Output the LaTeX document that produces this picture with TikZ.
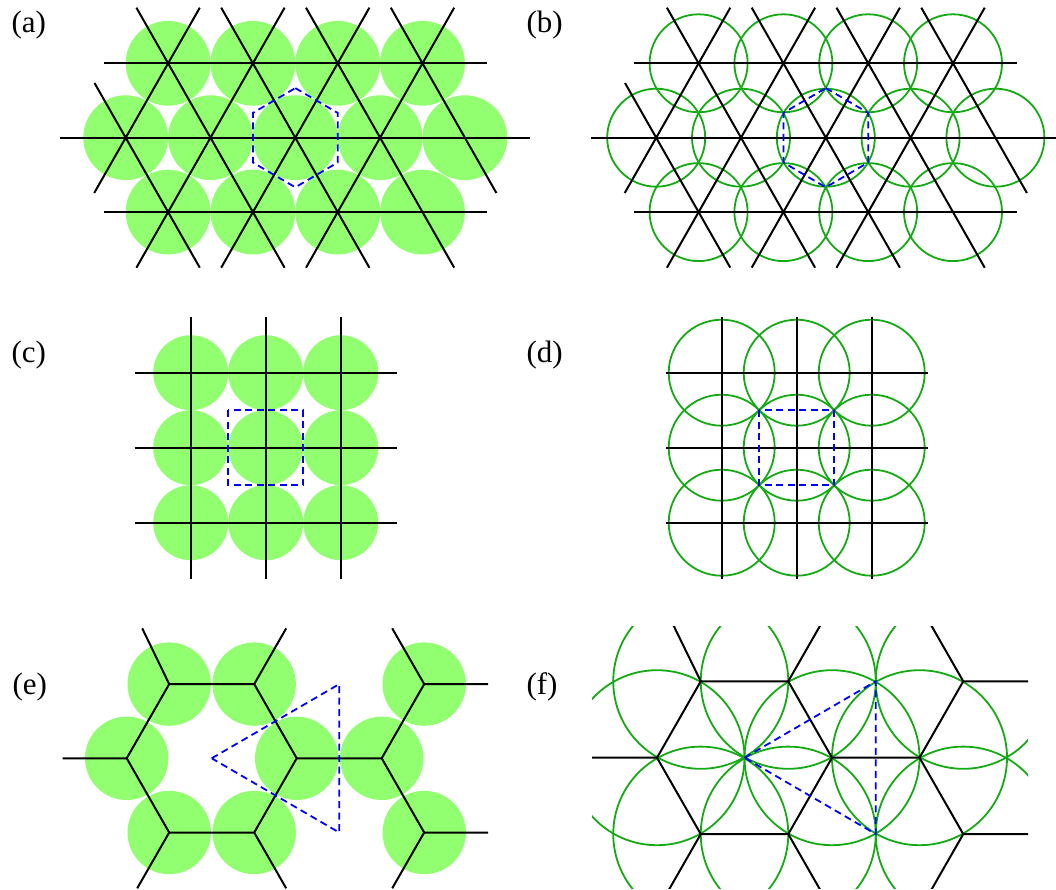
\documentclass[tikz,border=0pt]{standalone}
\usepackage{fontspec}
\setmainfont{Liberation Serif}

\definecolor{latFill}{RGB}{146,255,112}
\definecolor{latRing}{RGB}{20,170,20}
\definecolor{latCell}{RGB}{0,0,255}

\tikzset{
  bond/.style={black,line width=2pt},
  disk/.style={fill=latFill},
  ring/.style={draw=latRing,line width=1.8pt},
  cell/.style={latCell,line width=1.8pt,dash pattern=on 7pt off 4.5pt},
  panel/.style={anchor=base west,font=\fontsize{31}{36}\selectfont}
}

\begin{document}
\begin{tikzpicture}[x=1pt,y=-1pt]
  \useasboundingbox (0,0) rectangle (1056,890);

  % (a) triangular lattice, filled disks
  \begin{scope}[shift={(295.3,137.7)}]
    \foreach \m in {-1.5,-0.5,0.5,1.5} {
      \fill[disk] (\m*84.8,-74.4) circle[radius=42.4];
      \fill[disk] (\m*84.8,74.4) circle[radius=42.4];
    }
    \foreach \m in {-2,...,2}
      \fill[disk] (\m*84.8,0) circle[radius=42.4];
    \draw[bond] (-191.5,-74.4) -- (191.5,-74.4) (-235,0) -- (235,0) (-191.5,74.4) -- (191.5,74.4);
    \foreach \m in {-1,0,1} {
      \draw[bond] (\m*84.8-74.1,-130) -- (\m*84.8+74.1,130);
      \draw[bond] (\m*84.8+74.1,-130) -- (\m*84.8-74.1,130);
    }
    \draw[bond] (-200.8,-54.7) -- (-95.5,130) (-95.5,-130) -- (-201.1,55.3);
    \draw[bond] (95.5,-130) -- (201.1,55.3);
    \draw[cell] (0,-49.6) -- (42.4,-24.8) -- (42.4,24.8) -- (0,49.6) -- (-42.4,24.8) -- (-42.4,-24.8) -- cycle;
  \end{scope}

  % (b) triangular lattice, overlapping rings
  \begin{scope}[shift={(825.8,137.7)}]
    \foreach \m in {-1.5,-0.5,0.5,1.5} {
      \draw[ring] (\m*84.8,-74.4) circle[radius=49];
      \draw[ring] (\m*84.8,74.4) circle[radius=49];
    }
    \foreach \m in {-2,...,2}
      \draw[ring] (\m*84.8,0) circle[radius=49];
    \draw[bond] (-191.5,-74.4) -- (191.5,-74.4) (-235,0) -- (235,0) (-191.5,74.4) -- (191.5,74.4);
    \foreach \m in {-1,0,1} {
      \draw[bond] (\m*84.8-74.1,-130) -- (\m*84.8+74.1,130);
      \draw[bond] (\m*84.8+74.1,-130) -- (\m*84.8-74.1,130);
    }
    \draw[bond] (-200.8,-54.7) -- (-95.5,130) (-95.5,-130) -- (-201.1,55.3);
    \draw[bond] (95.5,-130) -- (201.1,55.3);
    \draw[cell] (0,-49.6) -- (42.4,-24.8) -- (42.4,24.8) -- (0,49.6) -- (-42.4,24.8) -- (-42.4,-24.8) -- cycle;
  \end{scope}

  % (c) square lattice, filled disks
  \begin{scope}[shift={(265.7,447.7)}]
    \foreach \i in {-1,0,1}
      \foreach \j in {-1,0,1}
        \fill[disk] (\i*75,\j*75) circle[radius=37.5];
    \foreach \i in {-1,0,1} {
      \draw[bond] (\i*75,-131) -- (\i*75,131);
      \draw[bond] (-131,\i*75) -- (131,\i*75);
    }
    \draw[cell] (-37.5,-37.5) rectangle (37.5,37.5);
  \end{scope}

  % (d) square lattice, overlapping rings
  \begin{scope}[shift={(796.7,447.7)}]
    \foreach \i in {-1,0,1}
      \foreach \j in {-1,0,1}
        \draw[ring] (\i*75,\j*75) circle[radius=53];
    \foreach \i in {-1,0,1} {
      \draw[bond] (\i*75,-131) -- (\i*75,131);
      \draw[bond] (-131,\i*75) -- (131,\i*75);
    }
    \draw[cell] (-37.5,-37.5) rectangle (37.5,37.5);
  \end{scope}

  % (e) honeycomb, filled disks
  \begin{scope}[shift={(211.7,758.3)}]
    \coordinate (e1) at (-42.5,-74.2);
    \coordinate (e2) at (42.5,-74.2);
    \coordinate (e3) at (85,0);
    \coordinate (e4) at (42.5,74.2);
    \coordinate (e5) at (-42.5,74.2);
    \coordinate (e6) at (-85,0);
    \coordinate (e7) at (170,0);
    \coordinate (e8) at (212.5,-74.2);
    \coordinate (e9) at (212.5,74.2);
    \foreach \v in {1,...,9}
      \fill[disk] (e\v) circle[radius=41.7];
    \draw[bond] (e1) -- (e2) -- (e3) -- (e4) -- (e5) -- (e6) -- cycle;
    \draw[bond] (e3) -- (e7) -- (e8) (e7) -- (e9);
    \draw[bond] (e1) -- ++(-27,-55.8) (e2) -- ++(32,-55.8) (e6) -- ++(-64,0);
    \draw[bond] (e5) -- ++(-32,55.8) (e4) -- ++(32,55.8);
    \draw[bond] (e8) -- ++(-32,-55.8) (e8) -- ++(64,0) (e9) -- ++(-32,55.8) (e9) -- ++(64,0);
    \draw[cell] (0,0) -- (127.5,-74.2) -- (127.5,74.2) -- cycle;
  \end{scope}

  % (f) honeycomb, overlapping rings
  \begin{scope}[shift={(744.5,757.7)}]
    \clip (-152.5,-131.7) rectangle (283.5,130.6);
    \coordinate (f1) at (-43.75,-76.4);
    \coordinate (f2) at (43.75,-76.4);
    \coordinate (f3) at (87.5,0);
    \coordinate (f4) at (43.75,76.4);
    \coordinate (f5) at (-43.75,76.4);
    \coordinate (f6) at (-87.5,0);
    \coordinate (f7) at (175,0);
    \coordinate (f8) at (218.75,-76.4);
    \coordinate (f9) at (218.75,76.4);
    \foreach \v in {1,...,9}
      \draw[ring] (f\v) circle[radius=87.5];
    \draw[bond] (f1) -- (f2) -- (f3) -- (f4) -- (f5) -- (f6) -- cycle;
    \draw[bond] (f3) -- (f7) -- (f8) (f7) -- (f9);
    \draw[bond] (f1) -- ++(-30,-61.5) (f2) -- ++(43.75,-76.4) (f6) -- ++(-87.5,0);
    \draw[bond] (f5) -- ++(-43.75,76.4) (f4) -- ++(43.75,76.4);
    \draw[bond] (f8) -- ++(-43.75,-76.4) (f8) -- ++(87.5,0) (f9) -- ++(-43.75,76.4) (f9) -- ++(87.5,0);
    \draw[cell] (0,0) -- (131.25,-76.4) -- (131.25,76.4) -- cycle;
  \end{scope}

  % Labels
  \node[panel] (lblA) at (8,32.5) {(a)};
  \node[panel] (lblB) at (523,32.5) {(b)};
  \node[panel] (lblC) at (8,362.5) {(c)};
  \node[panel] (lblD) at (523,362.5) {(d)};
  \node[panel] (lblE) at (9,694) {(e)};
  \node[panel] (lblF) at (523,694) {(f)};
\end{tikzpicture}
\end{document}
